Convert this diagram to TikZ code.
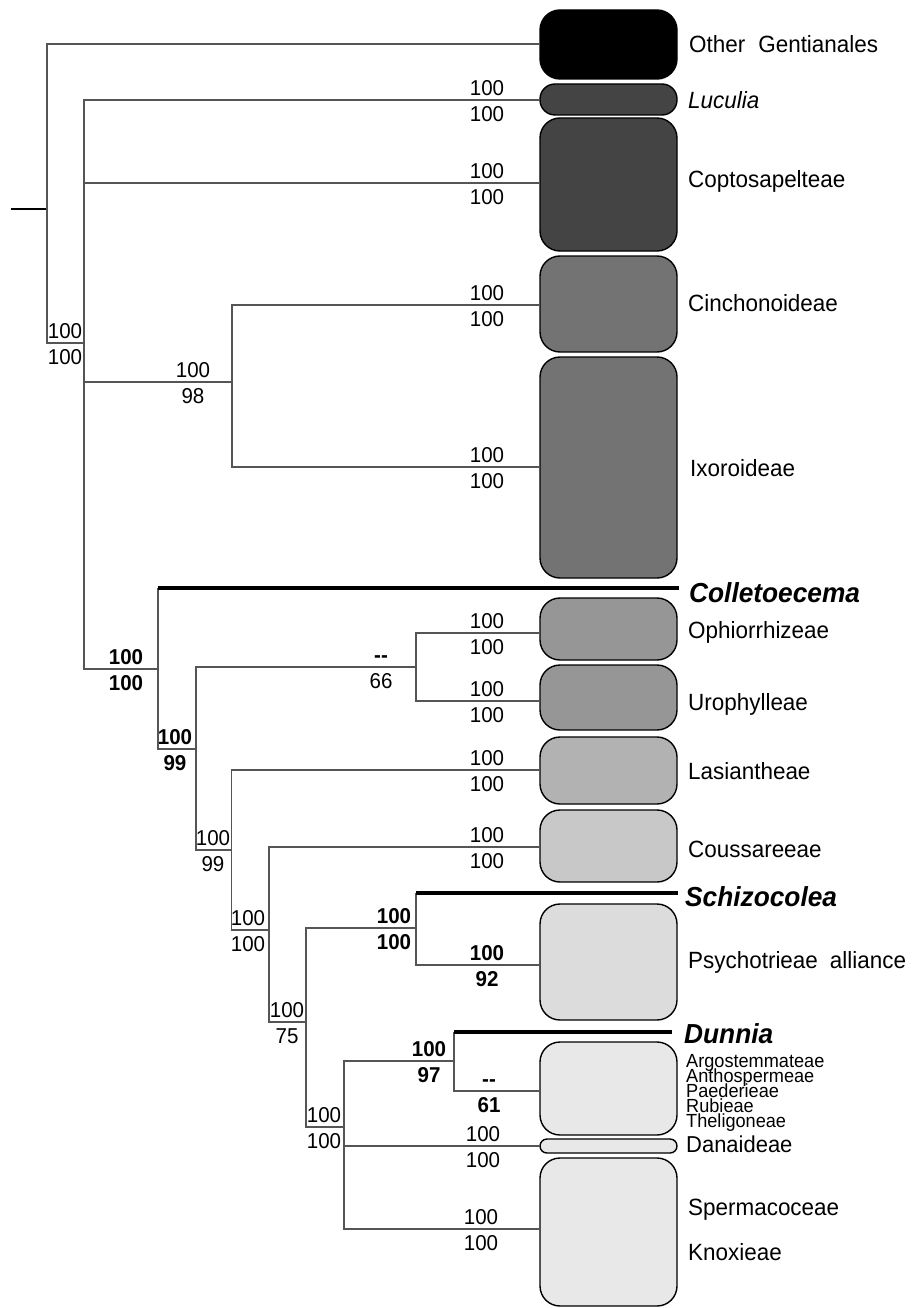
\documentclass[tikz,border=0pt]{standalone}
\usepackage{fontspec}
\setmainfont[FakeStretch=0.955]{Liberation Sans}
\definecolor{brc}{HTML}{555555}
\definecolor{gA}{HTML}{000000}
\definecolor{gB}{HTML}{444444}
\definecolor{gC}{HTML}{737373}
\definecolor{gD}{HTML}{969696}
\definecolor{gE}{HTML}{B2B2B2}
\definecolor{gF}{HTML}{C8C8C8}
\definecolor{gG}{HTML}{DCDCDC}
\definecolor{gH}{HTML}{E8E8E8}
\tikzset{
  br/.style={draw=brc, line width=1.1pt},
  thk/.style={draw=black, line width=3.5pt},
  clade/.style={draw=black, line width=1.4pt, minimum width=137pt, inner sep=0pt, outer sep=0pt},
  lab/.style={font=\fontsize{23.5}{25}\selectfont, anchor=base west, inner sep=0pt},
  biglab/.style={font=\fontsize{27.5}{29}\selectfont\bfseries\itshape, anchor=base west, inner sep=0pt},
  smlab/.style={font=\fontsize{19}{19}\selectfont, anchor=base west, inner sep=0pt},
  num/.style={font=\fontsize{21.5}{23}\selectfont, anchor=base, inner sep=0pt},
  bnum/.style={num, font=\fontsize{21.5}{23}\selectfont\bfseries},
}
% support values: name, x centre, y of branch line, upper, lower, style
\newcommand\suppair[6]{%
  \node[#6] (#1u) at (#2,#3-4.7) {#4};
  \node[#6] (#1l) at (#2,#3+21.3) {#5};}
\begin{document}
\begin{tikzpicture}[x=1pt,y=-1pt]
\useasboundingbox (0,0) rectangle (911,1308);

% ---- clade boxes ----
\node[clade, fill=gA, minimum height=69pt, rounded corners=20pt] (bOG) at (608.5,44.5) {};
\node[clade, fill=gB, minimum height=31pt, rounded corners=15pt] (bLuc) at (608.5,99.5) {};
\node[clade, fill=gB, minimum height=133pt, rounded corners=20pt] (bCop) at (608.5,184.5) {};
\node[clade, fill=gC, minimum height=96pt, rounded corners=20pt] (bCin) at (608.5,304) {};
\node[clade, fill=gC, minimum height=221pt, rounded corners=20pt] (bIxo) at (608.5,467.5) {};
\node[clade, fill=gD, minimum height=62pt, rounded corners=20pt] (bOph) at (608.5,629) {};
\node[clade, fill=gD, minimum height=65pt, rounded corners=20pt] (bUro) at (608.5,697.5) {};
\node[clade, fill=gE, minimum height=67pt, rounded corners=20pt] (bLas) at (608.5,770.5) {};
\node[clade, fill=gF, minimum height=72pt, rounded corners=20pt] (bCou) at (608.5,846) {};
\node[clade, fill=gG, minimum height=116pt, rounded corners=20pt] (bPsy) at (608.5,962) {};
\node[clade, fill=gH, minimum height=93pt, rounded corners=20pt] (bArg) at (608.5,1088.5) {};
\node[clade, fill=gH, minimum height=14pt, rounded corners=7pt] (bDan) at (608.5,1146) {};
\node[clade, fill=gH, minimum height=148pt, rounded corners=20pt] (bSpe) at (608.5,1232) {};

% ---- branch end points ----
\coordinate (tOG) at (540,44);
\coordinate (tLuc) at (540,100);
\coordinate (tCop) at (540,183);
\coordinate (tCin) at (540,305);
\coordinate (tIxo) at (540,467);
\coordinate (tCol) at (679,588);
\coordinate (tOph) at (540,633);
\coordinate (tUro) at (540,701);
\coordinate (tLas) at (540,770);
\coordinate (tCou) at (540,847);
\coordinate (tSch) at (678,893);
\coordinate (tPsy) at (540,965);
\coordinate (tDun) at (672,1032);
\coordinate (tArg) at (540,1091);
\coordinate (tDan) at (540,1146);
\coordinate (tSpe) at (540,1229);

% ---- internal nodes ----
\coordinate (rs) at (11,209);
\coordinate (N0) at (47,209);
\coordinate (N1) at (84,343);
\coordinate (N2) at (232,382);
\coordinate (N3) at (158,669);
\coordinate (N4) at (196,749);
\coordinate (N5) at (416,667);
\coordinate (N6) at (231.5,850);
\coordinate (N7) at (269,930);
\coordinate (N8) at (306,1022);
\coordinate (N9) at (416,928);
\coordinate (N10) at (344,1127);
\coordinate (N11) at (454,1061);

% ---- branches ----
\draw[black, line width=1.1pt] (rs) -- (N0);
\draw[br] (N0) |- (tOG);
\draw[br] (N0) |- (N1);
\draw[br] (N1) |- (tLuc);
\draw[br] (N1) |- (tCop);
\draw[br] (N1) |- (N2);
\draw[br] (N1) |- (N3);
\draw[br] (N2) |- (tCin);
\draw[br] (N2) |- (tIxo);
\draw[br] (N3) -- (N3 |- tCol);
\draw[thk] (N3 |- tCol) -- (tCol);
\draw[br] (N3) |- (N4);
\draw[br] (N4) |- (N5);
\draw[br] (N4) |- (N6);
\draw[br] (N5) |- (tOph);
\draw[br] (N5) |- (tUro);
\draw[br] (N6) |- (tLas);
\draw[br] (N6) |- (N7);
\draw[br] (N7) |- (tCou);
\draw[br] (N7) |- (N8);
\draw[br] (N8) |- (N9);
\draw[br] (N8) |- (N10);
\draw[br] (N9) -- (N9 |- tSch);
\draw[thk] (N9 |- tSch) -- (tSch);
\draw[br] (N9) |- (tPsy);
\draw[br] (N10) |- (N11);
\draw[br] (N10) |- (tDan);
\draw[br] (N10) |- (tSpe);
\draw[br] (N11) -- (N11 |- tDun);
\draw[thk] (N11 |- tDun) -- (tDun);
\draw[br] (N11) |- (tArg);

% ---- support values ----
\suppair{sA}{65}{343}{100}{100}{num}
\suppair{sB}{487}{100}{100}{100}{num}
\suppair{sC}{487}{183}{100}{100}{num}
\suppair{sD}{193}{382}{100}{98}{num}
\suppair{sE}{487}{305}{100}{100}{num}
\suppair{sF}{487}{467}{100}{100}{num}
\suppair{sG}{126}{669}{100}{100}{bnum}
\suppair{sH}{381}{667}{\bfseries -{}-}{66}{num}
\suppair{sI}{487}{633}{100}{100}{num}
\suppair{sJ}{487}{701}{100}{100}{num}
\suppair{sK}{175}{749}{100}{99}{bnum}
\suppair{sL}{487}{770}{100}{100}{num}
\suppair{sM}{213}{850}{100}{99}{num}
\suppair{sN}{487}{847}{100}{100}{num}
\suppair{sO}{248}{930}{100}{100}{num}
\suppair{sP}{394}{928}{100}{100}{bnum}
\suppair{sQ}{487}{965}{100}{92}{bnum}
\suppair{sR}{287}{1022}{100}{75}{num}
\suppair{sS}{324}{1127}{100}{100}{num}
\suppair{sT}{429}{1061}{100}{97}{bnum}
\suppair{sU}{489}{1091}{-{}-}{61}{bnum}
\suppair{sV}{483}{1146}{100}{100}{num}
\suppair{sW}{481}{1229}{100}{100}{num}

% ---- clade names ----
\node[lab] (lOG) at (689,52.5) {Other\hspace{13pt}Gentianales};
\node[lab] (lLuc) at (688,108.5) {\itshape Luculia};
\node[lab] (lCop) at (688,187.5) {Coptosapelteae};
\node[lab] (lCin) at (688,311.5) {Cinchonoideae};
\node[lab] (lIxo) at (690,476.5) {Ixoroideae};
\node[biglab] (lCol) at (689,602) {Colletoecema};
\node[lab] (lOph) at (688,638.5) {Ophiorrhizeae};
\node[lab] (lUro) at (688,710.5) {Urophylleae};
\node[lab] (lLas) at (688,779.5) {Lasiantheae};
\node[lab] (lCou) at (688,857.5) {Coussareeae};
\node[biglab] (lSch) at (685,906) {Schizocolea};
\node[lab] (lPsy) at (688,968.5) {Psychotrieae\hspace{12pt}alliance};
\node[biglab] (lDun) at (684,1043) {Dunnia};
\node[smlab] (lArg1) at (686,1067.8) {Argostemmateae};
\node[smlab] (lArg2) at (686,1082.8) {Anthospermeae};
\node[smlab] (lArg3) at (686,1097.8) {Paederieae};
\node[smlab] (lArg4) at (686,1112.8) {Rubieae};
\node[smlab] (lArg5) at (686,1127.8) {Theligoneae};
\node[lab, font=\fontsize{23}{24}\selectfont] (lDan) at (686,1152.5) {Danaideae};
\node[lab] (lSpe) at (688,1215.5) {Spermacoceae};
\node[lab] (lKno) at (688,1260.5) {Knoxieae};
\end{tikzpicture}
\end{document}
